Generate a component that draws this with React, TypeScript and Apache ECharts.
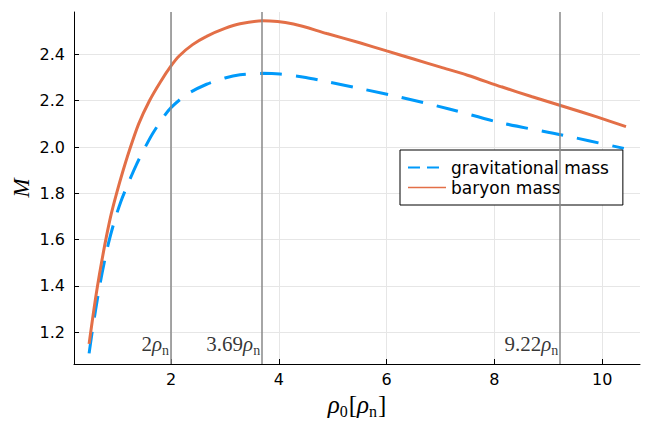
import React, { useEffect, useRef } from 'react';
import * as echarts from 'echarts';

const rhoGrav = [0.48, 0.53, 0.6, 0.68, 0.76, 0.84, 0.95, 1.07, 1.2, 1.35, 1.5, 1.66, 1.83, 2.0, 2.3, 2.66, 3.0, 3.28, 3.69, 4.02, 4.5, 4.89, 5.58, 6.26, 7.16, 8.13, 9.25, 10.4];
const massGrav = [1.109, 1.19, 1.295, 1.405, 1.5, 1.585, 1.68, 1.765, 1.84, 1.92, 1.99, 2.058, 2.119, 2.17, 2.228, 2.271, 2.298, 2.312, 2.318, 2.315, 2.3, 2.282, 2.249, 2.215, 2.164, 2.104, 2.052, 1.994];
const rhoBaryon = [0.48, 0.51, 0.57, 0.636, 0.71, 0.79, 0.89, 0.99, 1.1, 1.227, 1.4, 1.6, 1.8, 2.0, 2.15, 2.4, 2.66, 3.0, 3.28, 3.7, 4.27, 4.89, 5.5, 6.0, 6.5, 7.0, 7.5, 8.13, 8.7, 9.3, 9.9, 10.44];
const massBaryon = [1.15, 1.2, 1.3, 1.4, 1.5, 1.6, 1.71, 1.8, 1.89, 1.985, 2.1, 2.2, 2.28, 2.35, 2.393, 2.442, 2.478, 2.512, 2.532, 2.545, 2.531, 2.49, 2.45, 2.415, 2.38, 2.345, 2.31, 2.26, 2.217, 2.174, 2.13, 2.088];
const markerRho = [2, 3.69, 9.22];
const markerText = ['2', '3.69', '9.22'];
const xTicks = [2, 4, 6, 8, 10];
const yTicks = [1.2, 1.4, 1.6, 1.8, 2.0, 2.2, 2.4];
const seriesNames = ['gravitational mass', 'baryon mass'];

export default function App() {
  const ref = useRef<HTMLDivElement>(null);
  useEffect(() => {
    const chart = echarts.init(ref.current!, null, { renderer: 'svg' });
    const serif = 'Liberation Serif';
    const sans = 'DejaVu Sans';
    chart.setOption({
      animation: false,
      backgroundColor: '#fff',
      grid: { left: 74, right: 9, top: 12, bottom: 57, containLabel: false, outerBoundsMode: 'none' },
      legend: {
        orient: 'vertical',
        left: 400,
        top: 150,
        backgroundColor: '#fff',
        borderColor: '#000',
        borderWidth: 1,
        borderRadius: 0,
        padding: [9, 14, 9, 7],
        itemGap: 3,
        itemWidth: 38,
        itemHeight: 14,
        textStyle: { fontFamily: sans, fontSize: 17, color: '#000' },
        data: [
          { name: seriesNames[0], itemStyle: { opacity: 0 }, lineStyle: { width: 2, type: [12, 7], color: '#009AFA' } },
          { name: seriesNames[1], itemStyle: { opacity: 0 }, lineStyle: { width: 1.5, type: 'solid', color: '#E36F47' } },
        ],
      },
      xAxis: {
        type: 'value',
        min: 0.2,
        max: 10.7,
        name: '{r|ρ}{s|0}{a|[}{r|ρ}{s|n}{a|]}',
        nameLocation: 'middle',
        nameGap: 23,
        nameTextStyle: {
          rich: {
            a: { fontFamily: serif, fontSize: 25, color: '#000', verticalAlign: 'top', lineHeight: 26 },
            r: { fontFamily: serif, fontStyle: 'italic', fontSize: 25, color: '#000', verticalAlign: 'top', lineHeight: 26 },
            s: { fontFamily: serif, fontSize: 16, color: '#000', verticalAlign: 'top', padding: [12, 1, 0, 0] },
          },
        },
        axisLine: { onZero: false, lineStyle: { color: '#000', width: 1 } },
        axisTick: { customValues: xTicks, inside: true, length: 5, lineStyle: { color: '#000' } },
        axisLabel: { customValues: xTicks, formatter: (v: number) => String(v), fontFamily: sans, fontSize: 16, color: '#000', margin: 7 },
        splitLine: { show: true, lineStyle: { color: '#e6e6e6', width: 1 } },
      },
      yAxis: {
        type: 'value',
        min: 1.063,
        max: 2.583,
        name: 'M',
        nameLocation: 'middle',
        nameGap: 41,
        nameMoveOverlap: false,
        nameRotate: 90,
        nameTextStyle: { fontFamily: serif, fontStyle: 'italic', fontSize: 23, color: '#000' },
        axisLine: { show: true, onZero: false, lineStyle: { color: '#000', width: 1 } },
        axisTick: { show: true, customValues: yTicks, inside: true, length: 5, lineStyle: { color: '#000' } },
        axisLabel: { customValues: yTicks, formatter: (v: number) => v.toFixed(1), fontFamily: sans, fontSize: 16, color: '#000', margin: 9 },
        splitLine: { show: true, lineStyle: { color: '#e6e6e6', width: 1 } },
      },
      series: [
        {
          name: seriesNames[0],
          type: 'line',
          data: rhoGrav.map((x, i) => [x, massGrav[i]]),
          symbol: 'none',
          smooth: 0.3,
          lineStyle: { color: '#009AFA', width: 3, type: [22, 14], cap: 'butt' },
          itemStyle: { color: '#009AFA' },
          z: 3,
        },
        {
          name: seriesNames[1],
          type: 'line',
          data: rhoBaryon.map((x, i) => [x, massBaryon[i]]),
          symbol: 'none',
          smooth: 0.3,
          lineStyle: { color: '#E36F47', width: 3 },
          itemStyle: { color: '#E36F47' },
          z: 4,
          markLine: {
            silent: true,
            symbol: 'none',
            label: { show: false },
            lineStyle: { color: '#888', width: 1.5, type: 'solid' },
            data: markerRho.map((x) => ({ xAxis: x })),
          },
        },
        {
          name: 'markers',
          type: 'scatter',
          silent: true,
          symbolSize: 0,
          data: markerRho.map((x) => [x, 1.145]),
          label: {
            show: true,
            position: 'left',
            distance: 2,
            formatter: (p: any) => '{a|' + markerText[p.dataIndex] + '}{r|ρ}{s|n}',
            rich: {
              a: { fontFamily: serif, fontSize: 21, color: '#000', verticalAlign: 'top', lineHeight: 22 },
              r: { fontFamily: serif, fontStyle: 'italic', fontSize: 21, color: '#000', verticalAlign: 'top', lineHeight: 22 },
              s: { fontFamily: serif, fontSize: 14, color: '#000', verticalAlign: 'top', padding: [10, 0, 0, 0] },
            },
          },
        },
      ],
    });
    return () => chart.dispose();
  }, []);
  return <div ref={ref} style={{ position: 'fixed', left: 0, top: 0, width: 649, height: 421, background: '#fff' }} />;
}
